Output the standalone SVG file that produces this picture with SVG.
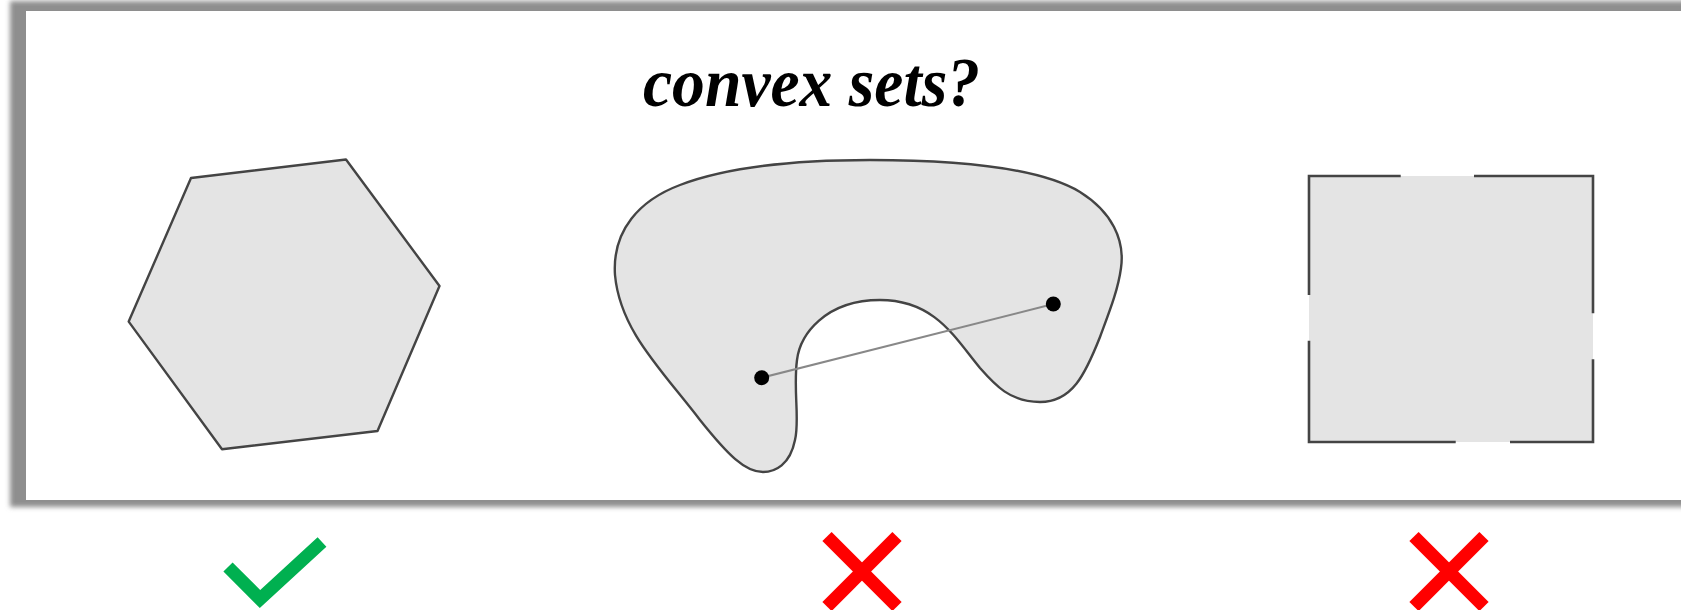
<svg xmlns="http://www.w3.org/2000/svg" width="1681" height="610" viewBox="0 0 1681 610">
  <style>
    .shape { fill: #e4e4e4; stroke: #444; stroke-width: 2.4; stroke-linejoin: round; }
    .edge { stroke: #444; stroke-width: 2.6; fill: none; stroke-linecap: butt; }
    .title { font-family: "Liberation Serif", "DejaVu Serif", serif; font-weight: bold; font-style: italic; font-size: 70px; fill: #000; }
    .dot { fill: #000; }
    .seg { stroke: #888; stroke-width: 2; }
    .ok { stroke: #00b050; stroke-width: 13; fill: none; }
    .no { stroke: #ff0000; stroke-width: 13; fill: none; }
  </style>
  <defs>
    <filter id="shadow" x="-5%" y="-5%" width="110%" height="120%">
      <feGaussianBlur stdDeviation="2.5"/>
    </filter>
  </defs>
  <rect width="1681" height="610" fill="#fff"/>
  <g id="panel">
    <rect x="10" y="1" width="1700" height="506" fill="#8e8e8e" filter="url(#shadow)"/>
    <rect x="26" y="11" width="1680" height="489" fill="#fff"/>
  </g>
  <g id="title">
    <text class="title" x="643" y="106" textLength="337" lengthAdjust="spacingAndGlyphs">convex sets?</text>
  </g>
  <g id="hexagon">
    <polygon class="shape" points="191,178 346,159.5 439.5,286 377.5,431 222,449.3 128.7,321.6"/>
  </g>
  <g id="blob">
    <path class="shape" d="M 870,160 C 960,160 1040,168 1080,192 C 1112,212 1125,240 1121,268 C 1118,290 1110,310 1100,337 C 1085,375 1072,402 1040,402 C 1010,402 995,385 980,368 C 955,338 935,300 880,300 C 825,300 800,335 797,360 C 793,390 800,420 795,440 C 790,465 775,472 763,472 C 745,472 728,455 700,420 C 660,368 620,330 615,275 C 612,230 640,200 680,185 C 730,166 800,160 870,160 Z"/>
  </g>
  <g id="connectors">
    <line class="seg" x1="761.7" y1="377.7" x2="1053.3" y2="304"/>
  </g>
  <g id="points">
    <circle class="dot" cx="761.7" cy="377.7" r="7.5"/>
    <circle class="dot" cx="1053.3" cy="304" r="7.5"/>
  </g>
  <g id="square">
    <rect x="1309" y="176" width="284" height="266" fill="#e4e4e4"/>
    <path class="edge" d="M 1400.7,176 L 1309,176 L 1309,295"/>
    <path class="edge" d="M 1309,340.7 L 1309,442 L 1455.7,442"/>
    <path class="edge" d="M 1510,442 L 1593,442 L 1593,359.3"/>
    <path class="edge" d="M 1593,313.3 L 1593,176 L 1474,176"/>
  </g>
  <g id="check">
    <polyline class="ok" points="228,567 260,599 322,542"/>
  </g>
  <g id="cross1">
    <line class="no" x1="827" y1="536.5" x2="897" y2="606.5"/>
    <line class="no" x1="897" y1="536.5" x2="827" y2="606.5"/>
  </g>
  <g id="cross2">
    <line class="no" x1="1414" y1="536.5" x2="1484" y2="606.5"/>
    <line class="no" x1="1484" y1="536.5" x2="1414" y2="606.5"/>
  </g>
</svg>
